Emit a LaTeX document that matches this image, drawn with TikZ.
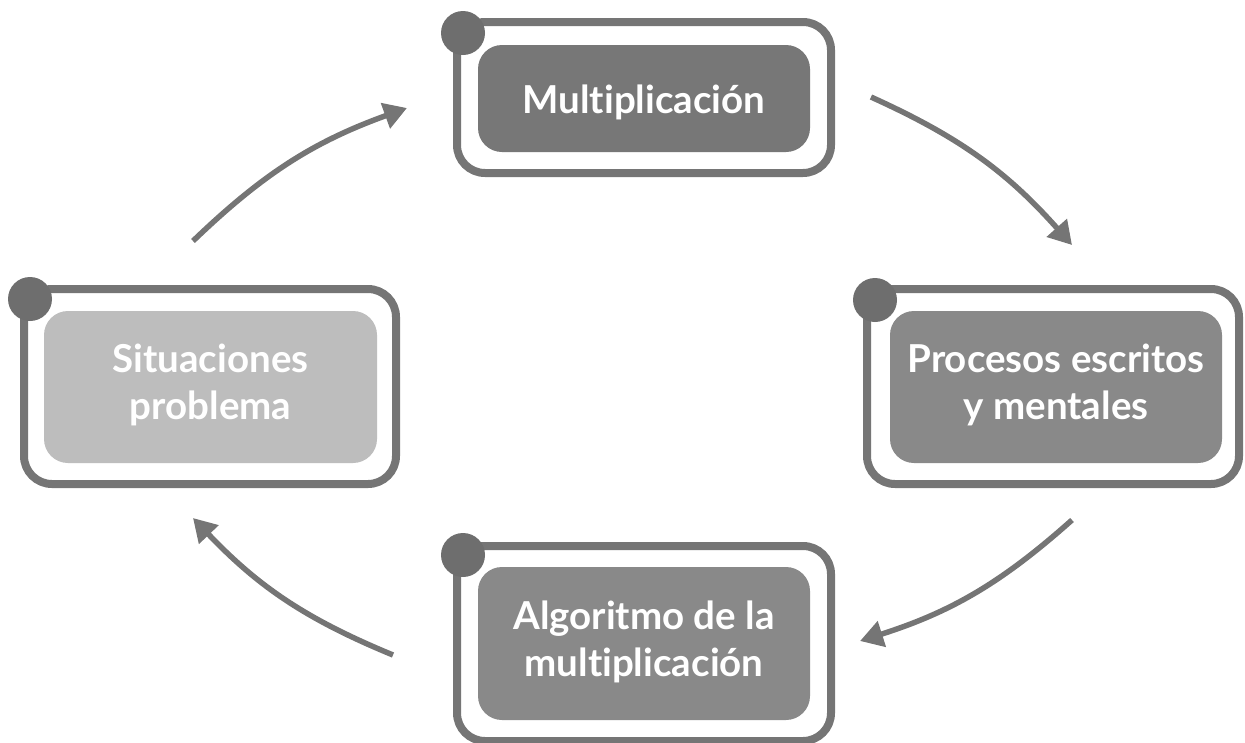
\documentclass[tikz,border=0pt]{standalone}
\usepackage{fontspec}
\setmainfont{Lato}[Ligatures=NoCommon]
\usetikzlibrary{arrows.meta}
\definecolor{frame}{HTML}{757575}
\definecolor{dotc}{HTML}{6E6E6E}
\definecolor{darkfill}{HTML}{777777}
\definecolor{midfill}{HTML}{898989}
\definecolor{lightfill}{HTML}{BDBDBD}
\tikzset{
  framebox/.style={draw=frame, line width=8pt, rounded corners=28pt, inner sep=0pt, fill=white},
  innerbox/.style={rounded corners=24pt, inner sep=0pt},
  boxtext/.style={text=white, align=center, inner sep=0pt,
    font=\fontsize{38.5}{47}\selectfont\bfseries},
  dotnode/.style={circle, fill=dotc, inner sep=0pt, minimum size=44pt},
  flow/.style={draw=frame, line width=5.5pt, -{Triangle[length=23pt,width=26pt]}}
}
\begin{document}
\begin{tikzpicture}[x=1pt,y=-1pt]
\useasboundingbox (0,0) rectangle (1245,742);
% frames
\node[framebox, minimum width=374pt, minimum height=151pt] (ftop) at (644,97.5) {};
\node[framebox, minimum width=372pt, minimum height=195pt] (fleft) at (210,386.5) {};
\node[framebox, minimum width=372pt, minimum height=195pt] (fright) at (1053,386.5) {};
\node[framebox, minimum width=374pt, minimum height=195pt] (fbot) at (644,643.5) {};
% inner boxes
\node[innerbox, fill=darkfill, minimum width=332pt, minimum height=107pt,
  label={[boxtext, yshift=-4pt]center:Multiplicación}] (top) at (644,98.5) {};
\node[innerbox, fill=lightfill, minimum width=333pt, minimum height=152pt,
  label={[boxtext, yshift=2pt]center:Situaciones\\problema}] (left) at (210.5,387) {};
\node[innerbox, fill=midfill, minimum width=332pt, minimum height=152pt,
  label={[boxtext, yshift=2pt]center:Procesos escritos\\y mentales}] (right) at (1056,387) {};
\node[innerbox, fill=midfill, minimum width=332pt, minimum height=153pt,
  label={[boxtext, yshift=2pt]center:Algoritmo de la\\multiplicación}] (bot) at (644,643.5) {};
% dots
\node[dotnode] (dtop) at (463,33) {};
\node[dotnode] (dleft) at (30,299) {};
\node[dotnode] (dright) at (875,300) {};
\node[dotnode] (dbot) at (463,555) {};
% arrow ends
\coordinate (a1s) at (193,241);
\coordinate (a1e) at (407,108);
\coordinate (a2s) at (871,97);
\coordinate (a2e) at (1072,245);
\coordinate (a3s) at (1072,520);
\coordinate (a3e) at (860,641);
\coordinate (a4s) at (393,655);
\coordinate (a4e) at (193,518);
\draw[flow] (a1s) to[bend left=12] (a1e);
\draw[flow] (a2s) to[bend left=12] (a2e);
\draw[flow] (a3s) to[bend left=12] (a3e);
\draw[flow] (a4s) to[bend left=12] (a4e);
\end{tikzpicture}
\end{document}
